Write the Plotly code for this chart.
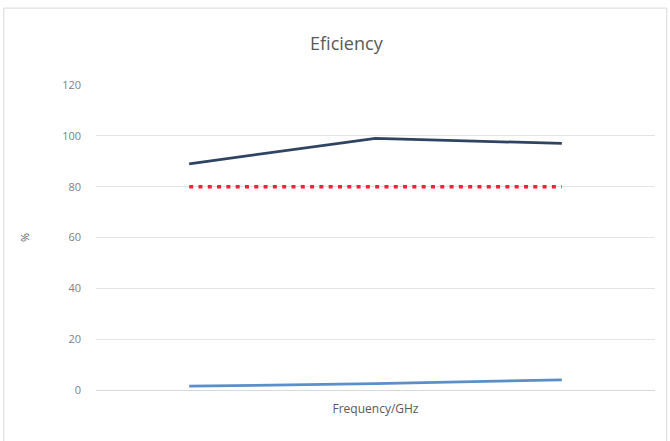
import plotly.graph_objects as go

# Data
categories = [1, 2, 3]
efficiency_measured = [89, 99, 97]
efficiency_target = [80, 80, 80]
efficiency_low = [1.5, 2.5, 4]
y_ticks = [0, 20, 40, 60, 80, 100, 120]

fig = go.Figure()

fig.add_trace(go.Scatter(
    x=categories, y=efficiency_measured, mode='lines',
    line=dict(color='#2f4462', width=2.75), showlegend=False
))
fig.add_trace(go.Scatter(
    x=categories, y=efficiency_target, mode='lines',
    line=dict(color='#f5203a', width=3.5, dash='4px,5.3px'), showlegend=False
))
fig.add_trace(go.Scatter(
    x=categories, y=efficiency_low, mode='lines',
    line=dict(color='#5b8fc9', width=2.75), showlegend=False
))

fig.update_layout(
    width=670, height=441,
    margin=dict(l=96, r=15, t=85, b=51),
    paper_bgcolor='white',
    plot_bgcolor='white',
    font=dict(family='Open Sans, Liberation Sans, sans-serif', color='#595959', size=12),
    title=dict(
        text='Eficiency',
        font=dict(size=18, color='#595959'),
        x=0.517, xanchor='center', y=0.9, yanchor='middle'
    ),
    xaxis=dict(
        range=[0.5, 3.5],
        showticklabels=False,
        showgrid=False,
        zeroline=False,
        showline=False,
        title=dict(text='Frequency/GHz', font=dict(size=12, color='#595959'), standoff=14)
    ),
    yaxis=dict(
        range=[0, 120],
        tickvals=y_ticks,
        gridcolor='#e4e4e4',
        gridwidth=1,
        zeroline=True,
        zerolinecolor='#d9d9d9',
        zerolinewidth=1,
        tickfont=dict(size=11, color='#808080'),
        ticklabelstandoff=14,
        title=dict(text='%', font=dict(size=11, color='#595959'), standoff=30)
    ),
    shapes=[dict(
        type='rect', xref='paper', yref='paper',
        x0=-0.165, x1=1.021, y0=-0.2, y1=1.252,
        line=dict(color='#d9d9d9', width=1), fillcolor='rgba(0,0,0,0)'
    )]
)

# remove the default page margin so the figure sits at the window corner
fig.write_html("out.html", config={'displayModeBar': False},
               post_script="document.body.style.margin='0';")
